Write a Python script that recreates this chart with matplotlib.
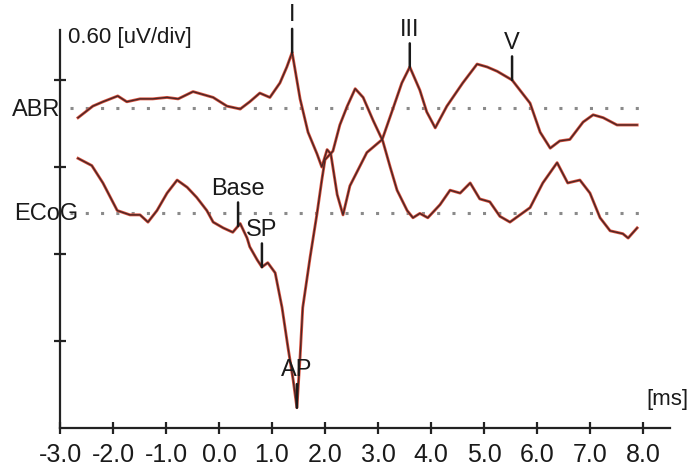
import matplotlib
matplotlib.use('Agg')
import matplotlib.pyplot as plt
import numpy as np

plt.rcParams['font.family'] = ['Liberation Sans', 'DejaVu Sans']
plt.rcParams['axes.unicode_minus'] = False

# time axis [ms]
abr_t = [-2.66, -2.38, -2.19, -1.91, -1.74, -1.49, -1.25, -0.98, -0.77, -0.49,
         -0.30, -0.11, 0.15, 0.40, 0.58, 0.77, 0.96, 1.15, 1.28, 1.38,
         1.53, 1.68, 1.85, 1.94, 2.04, 2.11, 2.23, 2.34, 2.47, 2.79,
         3.08, 3.28, 3.45, 3.60, 3.79, 3.92, 4.08, 4.30, 4.60, 4.87,
         5.06, 5.25, 5.53, 5.87, 6.06, 6.25, 6.43, 6.62, 6.87, 7.06,
         7.25, 7.51, 7.75, 7.89]
# ABR amplitude [uV], relative to its baseline
abr_v = [-0.07, 0.01, 0.04, 0.08, 0.04, 0.06, 0.06, 0.07, 0.06, 0.11,
         0.09, 0.07, 0.01, -0.01, 0.04, 0.10, 0.07, 0.17, 0.28, 0.38,
         0.06, -0.17, -0.32, -0.41, -0.29, -0.32, -0.60, -0.74, -0.54, -0.31,
         -0.22, -0.01, 0.17, 0.28, 0.12, -0.03, -0.14, 0.01, 0.17, 0.30,
         0.28, 0.25, 0.19, 0.03, -0.17, -0.28, -0.23, -0.22, -0.10, -0.05,
         -0.07, -0.12, -0.12, -0.12]

ecog_t = [-2.66, -2.40, -2.19, -1.92, -1.68, -1.49, -1.34, -1.17, -0.98, -0.79,
          -0.60, -0.42, -0.23, -0.11, 0.08, 0.26, 0.40, 0.53, 0.58, 0.72,
          0.81, 0.92, 1.06, 1.19, 1.30, 1.40, 1.47, 1.53, 1.58, 1.72,
          1.85, 1.94, 2.00, 2.15, 2.28, 2.42, 2.57, 2.72, 2.91, 3.09,
          3.23, 3.36, 3.55, 3.66, 3.79, 3.94, 4.17, 4.36, 4.55, 4.74,
          4.92, 5.11, 5.30, 5.49, 5.68, 5.87, 6.11, 6.38, 6.58, 6.81,
          7.00, 7.19, 7.38, 7.62, 7.72, 7.89]
ecog_v = [0.38, 0.33, 0.21, 0.02, -0.01, -0.01, -0.06, 0.02, 0.14, 0.23,
          0.18, 0.11, 0.02, -0.06, -0.10, -0.13, -0.07, -0.17, -0.23, -0.32,
          -0.37, -0.34, -0.41, -0.65, -0.92, -1.15, -1.34, -0.99, -0.65, -0.30,
          0.00, 0.23, 0.37, 0.43, 0.61, 0.74, 0.86, 0.80, 0.64, 0.50,
          0.32, 0.16, 0.02, -0.03, 0.00, -0.03, 0.06, 0.16, 0.14, 0.21,
          0.10, 0.08, -0.02, -0.06, -0.01, 0.04, 0.21, 0.35, 0.21, 0.23,
          0.14, -0.03, -0.12, -0.14, -0.17, -0.10]

# baselines [uV] on the 0.60 uV/div scale
abr_base = 2.21
ecog_base = 1.48

# labelled waves: (label, time)
abr_marks = [('I', 1.38), ('III', 3.60), ('V', 5.53)]
ecog_marks = [('Base', 0.36), ('SP', 0.81), ('AP', 1.47)]

xticks = [-3.0, -2.0, -1.0, 0.0, 1.0, 2.0, 3.0, 4.0, 5.0, 6.0, 7.0, 8.0]
yticks = [0.6, 1.2, 1.8, 2.4]

txt = '#1a1a1a'

fig = plt.figure(figsize=(6.89, 4.75), dpi=100)
ax = fig.add_axes([60 / 689, 47 / 475, 610 / 689, 398 / 475])
ax.set_xlim(-3.0, 8.51)
ax.set_ylim(0, 2.745)

for sp in ['top', 'right']:
    ax.spines[sp].set_visible(False)
for sp in ['left', 'bottom']:
    ax.spines[sp].set_linewidth(1.6)
    ax.spines[sp].set_color('#222222')

ax.set_xticks(xticks)
ax.set_xticklabels(['%.1f' % v for v in xticks], fontsize=18, color=txt)
ax.set_yticks(yticks)
ax.set_yticklabels([])
ax.tick_params(axis='both', direction='inout', length=9, width=1.6, color='#222222')
ax.tick_params(axis='x', pad=6)

# dotted baselines
ax.hlines([abr_base, ecog_base], -2.81, 7.94, colors='#8a8a8a',
          linestyles=[(0, (1, 4))], linewidth=2.2)

# traces: red halo under a dark core
for t, v, base in [(abr_t, abr_v, abr_base), (ecog_t, ecog_v, ecog_base)]:
    y = np.array(v) + base
    ax.plot(t, y, color='#d8503c', lw=2.1, solid_joinstyle='round', zorder=3)
    ax.plot(t, y, color='#4a2626', lw=1.0, solid_joinstyle='round', zorder=4)

# wave markers
for t, v, base, marks in [(abr_t, abr_v, abr_base, abr_marks),
                          (ecog_t, ecog_v, ecog_base, ecog_marks)]:
    for lab, tm in marks:
        ym = np.interp(tm, t, v) + base
        ax.annotate(lab, xy=(tm, ym), xytext=(0, 19), textcoords='offset points',
                    ha='center', va='bottom', fontsize=17, color=txt, zorder=5,
                    arrowprops=dict(arrowstyle='-', lw=1.8, color='#1a1a1a',
                                    shrinkA=0, shrinkB=0))

# side labels, overlapping the y axis as in the original
fig.text(12 / 689, 1 - 110 / 475, 'ABR', ha='left', va='center', fontsize=17,
         color=txt, zorder=5)
fig.text(14 / 689, 1 - 214 / 475, 'ECoG', ha='left', va='center', fontsize=17,
         color=txt, zorder=5)
fig.text(68 / 689, 1 - 38 / 475, '0.60 [uV/div]', ha='left', va='center',
         fontsize=16, color=txt)
fig.text(667 / 689, 1 - 400 / 475, '[ms]', ha='center', va='center',
         fontsize=16, color=txt)

fig.savefig('out.png', dpi=100, facecolor='white')
